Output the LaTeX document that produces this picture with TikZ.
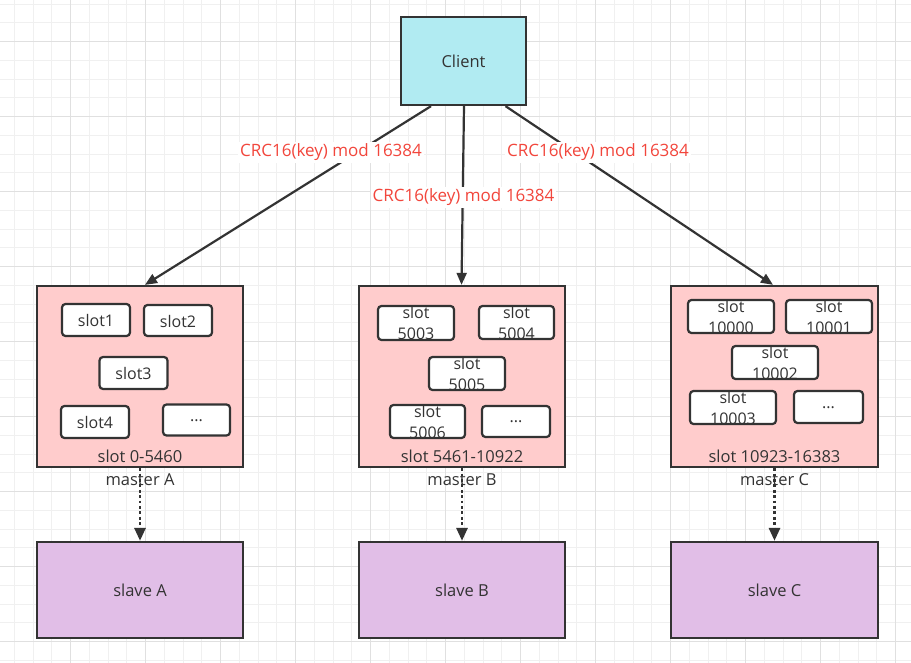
\documentclass[tikz,border=0pt]{standalone}
\usepackage{fontspec}
\setmainfont{Open Sans}
\usetikzlibrary{arrows.meta}
\definecolor{ink}{HTML}{333333}
\definecolor{txt}{HTML}{333333}
\definecolor{clientfill}{RGB}{177,235,242}
\definecolor{masterfill}{HTML}{FFCCCC}
\definecolor{slavefill}{RGB}{225,190,231}
\definecolor{labelred}{RGB}{242,70,60}
\definecolor{gridminor}{RGB}{240,240,240}
\definecolor{gridmajor}{RGB}{224,224,224}
\tikzset{
  bigbox/.style={draw=ink, line width=2.3pt, inner sep=0pt, text=txt, font=\fontsize{16.5}{19}\selectfont},
  slotbox/.style={draw=ink, fill=white, line width=2.2pt, rounded corners=3.5pt, inner sep=0pt},
  slottext/.style={text=txt, font=\fontsize{16}{21}\selectfont, align=center, inner sep=0pt, yshift=-0.5pt},
  crclabel/.style={fill=white, text=labelred, inner sep=2pt, font=\fontsize{17}{20}\selectfont},
  masterlabel/.style={text=txt, inner sep=0pt, font=\fontsize{16.5}{19}\selectfont},
  mainarrow/.style={draw=ink, line width=2.2pt, -{Triangle[length=12pt, width=10pt]}},
  dotarrow/.style={draw=ink, line width=2.8pt, dash pattern=on 2.8pt off 2.6pt, -{Triangle[length=13pt, width=11pt]}}
}
\begin{document}
\begin{tikzpicture}[x=1pt, y=-1pt]
\useasboundingbox (0,0) rectangle (911,663);
\fill[white] (0,0) rectangle (911,663);
% grid
\foreach \i in {0,...,49} {
  \pgfmathsetmacro{\gx}{-4.3+18.75*\i}
  \draw[gridminor, line width=1pt] (\gx,0) -- (\gx,663);
}
\foreach \i in {0,...,36} {
  \pgfmathsetmacro{\gy}{4.2+18.75*\i}
  \draw[gridminor, line width=1pt] (0,\gy) -- (911,\gy);
}
\foreach \i in {0,...,13} {
  \pgfmathsetmacro{\gx}{-4.3+75*\i}
  \draw[gridmajor, line width=1pt] (\gx,0) -- (\gx,663);
}
\foreach \i in {0,...,9} {
  \pgfmathsetmacro{\gy}{-33.3+75*\i}
  \draw[gridmajor, line width=1pt] (0,\gy) -- (911,\gy);
}

% client
\node[bigbox, fill=clientfill, minimum width=125pt, minimum height=88pt] (client) at (463.5,61) {Client};

% masters
\node[bigbox, fill=masterfill, minimum width=206pt, minimum height=181pt] (mA) at (140,376.5) {};
\node[bigbox, fill=masterfill, minimum width=206pt, minimum height=181pt] (mB) at (462,376.5) {};
\node[bigbox, fill=masterfill, minimum width=207pt, minimum height=181pt] (mC) at (774.5,376.5) {};

% slaves
\node[bigbox, fill=slavefill, minimum width=206pt, minimum height=96pt] (sA) at (140,590) {slave A};
\node[bigbox, fill=slavefill, minimum width=206pt, minimum height=96pt] (sB) at (462,590) {slave B};
\node[bigbox, fill=slavefill, minimum width=207pt, minimum height=96pt] (sC) at (774.5,590) {slave C};

% master A slots
\node[slotbox, minimum width=68pt, minimum height=32pt] (a1) at (96,320) {};
\node[slottext] at (a1) {slot1};
\node[slotbox, minimum width=68pt, minimum height=31pt] (a2) at (178,320.5) {};
\node[slottext] at (a2) {slot2};
\node[slotbox, minimum width=68pt, minimum height=32pt] (a3) at (133.5,373) {};
\node[slottext] at (a3) {slot3};
\node[slotbox, minimum width=68pt, minimum height=32pt] (a4) at (95,422) {};
\node[slottext] at (a4) {slot4};
\node[slotbox, minimum width=67pt, minimum height=31pt] (a5) at (196.5,420) {};
\node[slottext] at (a5) {...};
\node[masterlabel] (mAt) at (140,456) {slot 0-5460};

% master B slots
\node[slotbox, minimum width=76pt, minimum height=34pt] (b1) at (416,323) {};
\node[slottext] at (b1) {slot\\5003};
\node[slotbox, minimum width=75pt, minimum height=33pt] (b2) at (516.5,322.5) {};
\node[slottext] at (b2) {slot\\5004};
\node[slotbox, minimum width=76pt, minimum height=33pt] (b3) at (467,373.5) {};
\node[slottext] at (b3) {slot\\5005};
\node[slotbox, minimum width=75pt, minimum height=33pt] (b4) at (427.5,421.5) {};
\node[slottext] at (b4) {slot\\5006};
\node[slotbox, minimum width=68pt, minimum height=31pt] (b5) at (516,421.5) {};
\node[slottext] at (b5) {...};
\node[masterlabel] (mBt) at (462,456) {slot 5461-10922};

% master C slots
\node[slotbox, minimum width=86pt, minimum height=33pt] (c1) at (731,316.5) {};
\node[slottext] at (c1) {slot\\10000};
\node[slotbox, minimum width=86pt, minimum height=33pt] (c2) at (829,316.5) {};
\node[slottext] at (c2) {slot\\10001};
\node[slotbox, minimum width=86pt, minimum height=33pt] (c3) at (775,362.5) {};
\node[slottext] at (c3) {slot\\10002};
\node[slotbox, minimum width=86pt, minimum height=33pt] (c4) at (733,407.5) {};
\node[slottext] at (c4) {slot\\10003};
\node[slotbox, minimum width=69pt, minimum height=32pt] (c5) at (828.5,407) {};
\node[slottext] at (c5) {...};
\node[masterlabel] (mCt) at (774.5,456) {slot 10923-16383};

% client arrows
\draw[mainarrow] ([xshift=-32.5pt]client.south) -- ([xshift=5pt]mA.north);
\draw[mainarrow] ([xshift=0.5pt]client.south) -- ([xshift=-0.5pt]mB.north);
\draw[mainarrow] ([xshift=42pt]client.south) -- ([xshift=-1.5pt]mC.north);
\node[crclabel] (lA) at (331,152.5) {CRC16(key) mod 16384};
\node[crclabel] (lB) at (463.5,197.5) {CRC16(key) mod 16384};
\node[crclabel] (lC) at (598,152.5) {CRC16(key) mod 16384};

% master to slave
\node[masterlabel] (mlA) at (140,480) {master A};
\node[masterlabel] (mlB) at (462,480) {master B};
\node[masterlabel] (mlC) at (774.5,480) {master C};
\draw[dotarrow] (mA.south) -- (sA.north);
\draw[dotarrow] (mB.south) -- (sB.north);
\draw[dotarrow] (mC.south) -- (sC.north);
\end{tikzpicture}
\end{document}
